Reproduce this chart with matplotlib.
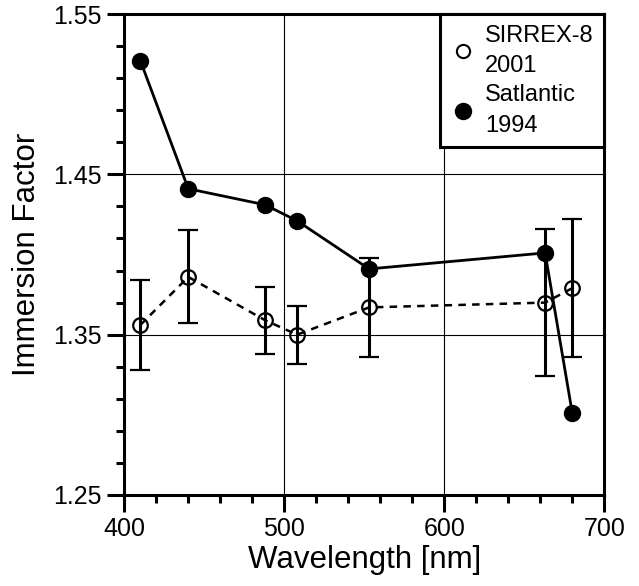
import matplotlib
matplotlib.use("Agg")
import matplotlib.pyplot as plt
from matplotlib.lines import Line2D
from matplotlib.ticker import MultipleLocator, FormatStrFormatter

plt.rcParams["font.family"] = ["Liberation Sans", "DejaVu Sans"]

# SIRREX-8 2001 (open circles with error bars)
sirrex_wl = [410, 440, 488, 508, 553, 663, 680]
sirrex_val = [1.356, 1.386, 1.359, 1.350, 1.367, 1.370, 1.379]
sirrex_err = [0.028, 0.029, 0.021, 0.018, 0.031, 0.046, 0.043]

# Satlantic 1994 (filled circles)
satl_wl = [410, 440, 488, 508, 553, 663, 680]
satl_val = [1.521, 1.441, 1.431, 1.421, 1.391, 1.401, 1.301]

fig = plt.figure(figsize=(6.39, 5.86), dpi=100)
ax = fig.add_axes([0.1945, 0.1553, 0.7512, 0.8208])

ax.errorbar(sirrex_wl, sirrex_val, yerr=sirrex_err, fmt="o", mfc="none",
            mec="black", mew=1.6, ms=10.5, ecolor="black", elinewidth=2.2,
            capsize=7.5, capthick=2.2, ls=(0, (3, 2.5)), color="black",
            lw=1.8, zorder=3)
ax.plot(satl_wl, satl_val, "-o", color="black", lw=2.0, ms=11.5, zorder=4)

ax.set_xlim(400, 700)
ax.set_ylim(1.25, 1.55)
ax.xaxis.set_major_locator(MultipleLocator(100))
ax.xaxis.set_minor_locator(MultipleLocator(20))
ax.yaxis.set_major_locator(MultipleLocator(0.1, offset=0.05))
ax.yaxis.set_minor_locator(MultipleLocator(0.02, offset=0.01))
ax.yaxis.set_major_formatter(FormatStrFormatter("%.2f"))
ax.tick_params(which="major", direction="out", length=12, width=2.2,
               labelsize=18, pad=4)
ax.tick_params(which="minor", direction="out", length=6, width=2.2)
ax.grid(which="major", color="black", lw=0.8)
for s in ax.spines.values():
    s.set_linewidth(2.2)

ax.set_xlabel("Wavelength [nm]", fontsize=22.5, labelpad=3)
ax.set_ylabel("Immersion Factor", fontsize=22.5, labelpad=8)

# legend: markers only
handles = [
    Line2D([], [], ls="none", marker="o", mfc="none", mec="black", mew=1.5, ms=9.5),
    Line2D([], [], ls="none", marker="o", color="black", ms=11.5),
]
labels = ["SIRREX-8\n2001", "Satlantic\n1994"]
leg = ax.legend(handles, labels, loc="upper right", bbox_to_anchor=(1, 1),
                borderaxespad=0, fontsize=17, frameon=True, fancybox=False,
                framealpha=1, edgecolor="black", handlelength=1.0,
                handletextpad=0.45, labelspacing=0.3, borderpad=0.45)
leg.get_frame().set_linewidth(2.2)
for t in leg.get_texts():
    t.set_linespacing(1.5)

fig.savefig("out.png", dpi=100)
